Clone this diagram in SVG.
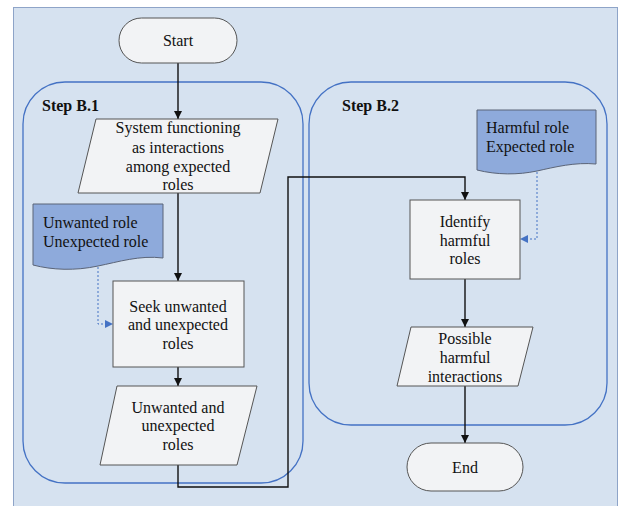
<svg xmlns="http://www.w3.org/2000/svg" width="618" height="506" viewBox="0 0 618 506">
<defs>
<style>
text{font-family:'Liberation Serif','Times New Roman',serif;font-size:16px;fill:#111}
.t{text-anchor:middle}
.hd{font-weight:bold}
.box{fill:#f2f3f5;stroke:#555;stroke-width:1}
.doc{fill:#8eaadb;stroke:#5a6478;stroke-width:1}
.grp{fill:none;stroke:#4472c4;stroke-width:1.3}
.ln{fill:none;stroke:#111;stroke-width:1.4}
.dt{fill:none;stroke:#4472c4;stroke-width:1;stroke-dasharray:2,2}
</style>
<marker id="ah" viewBox="0 0 10 10" refX="10" refY="5" markerWidth="8" markerHeight="8" markerUnits="userSpaceOnUse" orient="auto"><path d="M0,0 L10,5 L0,10 Z" fill="#111"/></marker>
<marker id="ahb" viewBox="0 0 10 10" refX="10" refY="5" markerWidth="8" markerHeight="8" markerUnits="userSpaceOnUse" orient="auto"><path d="M0,0 L10,5 L0,10 Z" fill="#4472c4"/></marker>
</defs>
<rect x="0" y="0" width="618" height="506" fill="#ffffff"/>
<rect x="13.5" y="7.5" width="604" height="500" fill="#d6e2f0" stroke="#8ea4c8" stroke-width="1"/>

<g id="stepB1">
<rect class="grp" x="23" y="82" width="280" height="401" rx="42" ry="42"/>
<text class="hd" x="42" y="111">Step B.1</text>
</g>
<g id="stepB2">
<rect class="grp" x="309" y="82" width="298" height="343" rx="42" ry="42"/>
<text class="hd" x="342" y="111">Step B.2</text>
</g>

<g id="connectors">
<line class="ln" x1="178" y1="63" x2="178" y2="119" marker-end="url(#ah)"/>
<line class="ln" x1="178" y1="193" x2="178" y2="281" marker-end="url(#ah)"/>
<line class="ln" x1="178" y1="367" x2="178" y2="386" marker-end="url(#ah)"/>
<polyline class="ln" points="178,465 178,487 288,487 288,177 465,177 465,200" marker-end="url(#ah)"/>
<line class="ln" x1="465" y1="279" x2="465" y2="327" marker-end="url(#ah)"/>
<line class="ln" x1="465" y1="386" x2="465" y2="443" marker-end="url(#ah)"/>
<polyline class="dt" points="98,267 98,324 113,324" marker-end="url(#ahb)"/>
<polyline class="dt" points="537,172 537,239 520,239" marker-end="url(#ahb)"/>
</g>

<g id="start">
<rect class="box" x="119" y="18" width="118" height="45" rx="22.5" ry="22.5"/>
<text class="t" x="178" y="46">Start</text>
</g>

<g id="sysfunc">
<polygon class="box" points="96,119 278,119 260,193 78,193"/>
<text class="t" x="178" y="133">System functioning</text>
<text class="t" x="178" y="153">as interactions</text>
<text class="t" x="178" y="172">among expected</text>
<text class="t" x="178" y="190">roles</text>
</g>

<g id="unwantedDoc">
<path class="doc" d="M33,204 H163 V258 C140,255 118,262 98,266 C75,271 52,270 33,265 Z"/>
<text x="43" y="228">Unwanted role</text>
<text x="43" y="247">Unexpected role</text>
</g>

<g id="seek">
<rect class="box" x="113" y="281" width="131" height="86"/>
<text class="t" x="178" y="312">Seek unwanted</text>
<text class="t" x="178" y="330">and unexpected</text>
<text class="t" x="178" y="349">roles</text>
</g>

<g id="unwantedOut">
<polygon class="box" points="117,386 257,386 237,465 100,465"/>
<text class="t" x="178" y="413">Unwanted and</text>
<text class="t" x="178" y="431">unexpected</text>
<text class="t" x="178" y="450">roles</text>
</g>

<g id="harmfulDoc">
<path class="doc" d="M477,110 H596 V164 C575,162 555,167 537,171 C518,175 497,175 477,170 Z"/>
<text x="486" y="133">Harmful role</text>
<text x="486" y="152">Expected role</text>
</g>

<g id="identify">
<rect class="box" x="410" y="200" width="110" height="79"/>
<text class="t" x="465" y="227">Identify</text>
<text class="t" x="465" y="246">harmful</text>
<text class="t" x="465" y="264">roles</text>
</g>

<g id="possible">
<polygon class="box" points="411,327 533,327 518,386 397,386"/>
<text class="t" x="465" y="344">Possible</text>
<text class="t" x="465" y="363">harmful</text>
<text class="t" x="465" y="382">interactions</text>
</g>

<g id="end">
<rect class="box" x="407" y="443" width="116" height="48" rx="24" ry="24"/>
<text class="t" x="465" y="473">End</text>
</g>
</svg>
